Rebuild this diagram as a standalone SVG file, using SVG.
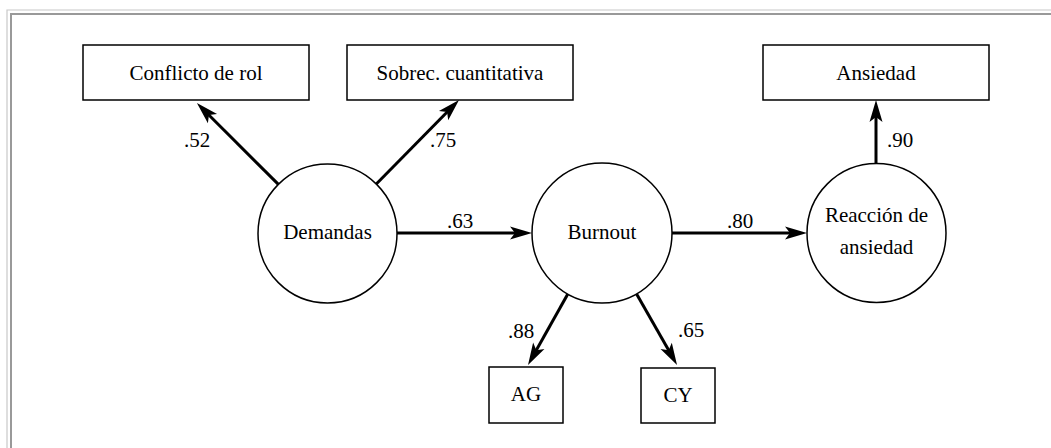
<svg xmlns="http://www.w3.org/2000/svg" width="1051" height="448" viewBox="0 0 1051 448">
<style>
.box{fill:#fff;stroke:#000;stroke-width:1.5}
.lat{fill:#fff;stroke:#000;stroke-width:1.5}
.t{font-family:"Liberation Serif","Times New Roman",serif;font-size:21px;fill:#000;text-anchor:middle}
.c{fill:none;stroke:#000;stroke-width:3}
</style>
<defs>
<marker id="ah" viewBox="-11 -7 24 14" refX="0" refY="0" markerWidth="24" markerHeight="14" markerUnits="userSpaceOnUse" orient="auto" overflow="visible">
<path d="M12,0 L-10,-6.5 L-5,0 L-10,6.5 Z" fill="#000"/>
</marker>
</defs>
<rect width="1051" height="448" fill="#fff"/>
<g id="frame" fill="none">
<path d="M7,448 V10 H1051" stroke="#c8c8c8" stroke-width="1.2"/>
<path d="M11,448 V14 H1051" stroke="#999" stroke-width="2"/>
</g>
<g id="connectors">
<line class="c" x1="278.4" y1="184.4" x2="205.4" y2="111.5" marker-end="url(#ah)"/>
<line class="c" x1="376.3" y1="184" x2="450.6" y2="108.5" marker-end="url(#ah)"/>
<line class="c" x1="397" y1="233" x2="520" y2="233" marker-end="url(#ah)"/>
<line class="c" x1="672" y1="233" x2="795" y2="233" marker-end="url(#ah)"/>
<line class="c" x1="876" y1="163" x2="876" y2="112" marker-end="url(#ah)"/>
<line class="c" x1="567.8" y1="294.1" x2="533.9" y2="354.5" marker-end="url(#ah)"/>
<line class="c" x1="636.6" y1="293.9" x2="671.1" y2="354.6" marker-end="url(#ah)"/>
<text class="t" x="197" y="147">.52</text>
<text class="t" x="443" y="147">.75</text>
<text class="t" x="460" y="228">.63</text>
<text class="t" x="740" y="228">.80</text>
<text class="t" x="900" y="147">.90</text>
<text class="t" x="521" y="338">.88</text>
<text class="t" x="691" y="337">.65</text>
</g>
<g id="conflicto">
<rect class="box" x="83" y="45" width="226" height="55"/>
<text class="t" x="196" y="80">Conflicto de rol</text>
</g>
<g id="sobrec">
<rect class="box" x="347" y="45" width="226" height="55"/>
<text class="t" x="460" y="80">Sobrec. cuantitativa</text>
</g>
<g id="ansiedad">
<rect class="box" x="763" y="45" width="226" height="55"/>
<text class="t" x="876" y="80">Ansiedad</text>
</g>
<g id="demandas">
<circle class="lat" cx="327.5" cy="233.5" r="69.5"/>
<text class="t" x="327.5" y="239">Demandas</text>
</g>
<g id="burnout">
<circle class="lat" cx="602" cy="233" r="70"/>
<text class="t" x="602" y="239">Burnout</text>
</g>
<g id="reaccion">
<circle class="lat" cx="876.5" cy="233" r="69.5"/>
<text class="t" x="876.5" y="222">Reacción de</text>
<text class="t" x="876.5" y="254">ansiedad</text>
</g>
<g id="ag">
<rect class="box" x="489" y="367" width="74" height="56"/>
<text class="t" x="526" y="401">AG</text>
</g>
<g id="cy">
<rect class="box" x="641" y="368" width="74" height="55"/>
<text class="t" x="678" y="402">CY</text>
</g>
</svg>
